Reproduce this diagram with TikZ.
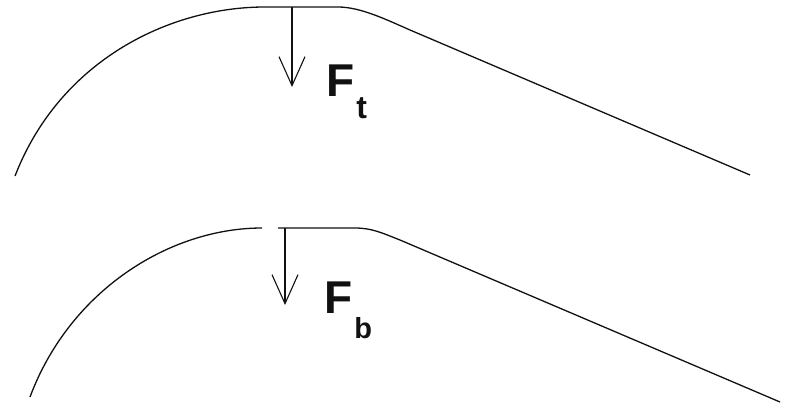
\documentclass[tikz,border=0pt]{standalone}
\usepackage{fontspec}
\setmainfont{Liberation Sans}
\usetikzlibrary{arrows.meta}
\usepackage{xcolor}
\definecolor{Ink}{HTML}{111111}

\begin{document}
\begin{tikzpicture}[x=1pt, y=-1pt,
            blade/.style={draw=Ink, line width=1.3pt, line join=round},
            force/.style={-{Straight Barb[length=29pt, width=26pt, line width=1.1pt]}, draw=Ink, line width=1.1pt},
            lbl/.style={anchor=base west, inner sep=0pt, text=Ink, font=\fontsize{46}{46}\bfseries\selectfont}
        ]
            \useasboundingbox (0,0) rectangle (786,409);

            % Top surface
            \draw[blade] (15,176) .. controls (60,60) and (170,7) .. (265,7) -- (338,7) .. controls (360,7) and (385,19) .. (410,30) -- (750,175);

            % Bottom surface
            \draw[blade] (30,397) .. controls (70,290) and (170,228) .. (262,228);
            \draw[blade] (278,228) -- (355,228) .. controls (372,228) and (382,233) .. (400,240) -- (780,402);

            % Force points
            \coordinate (topload) at (292,7);
            \coordinate (toptip) at (292,87);
            \coordinate (botload) at (285,228);
            \coordinate (bottip) at (285,305);

            % Forces
            \draw[force] (topload) -- (toptip);
            \draw[force] (botload) -- (bottip);

            % Labels
            \node[lbl] (ft) at (326,97) {F\hspace{2pt}\raisebox{-21pt}{\fontsize{32}{32}\selectfont t}};
            \node[lbl] (fb) at (324,313) {F\hspace{2pt}\raisebox{-25pt}{\fontsize{29}{29}\selectfont b}};
        \end{tikzpicture}
\end{document}
